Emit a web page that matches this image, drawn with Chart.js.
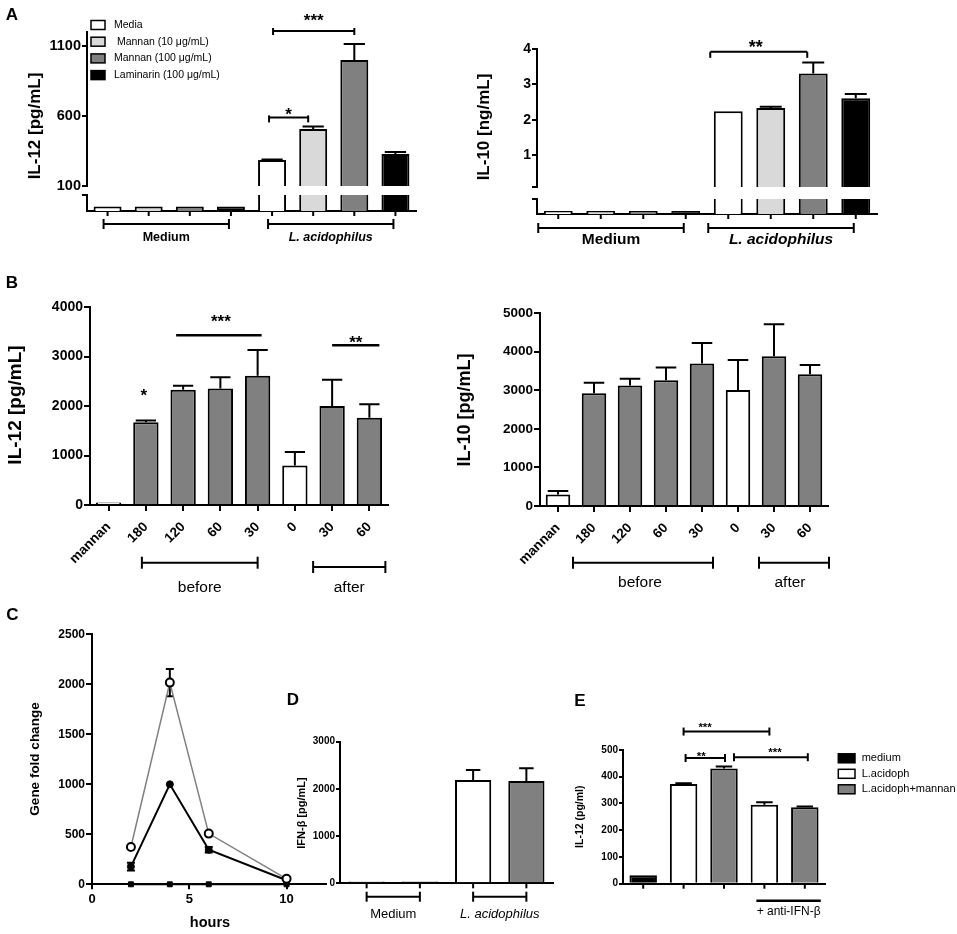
<!DOCTYPE html>
<html>
<head>
<meta charset="utf-8">
<script src="https://cdn.jsdelivr.net/npm/chart.js@4.4.1/dist/chart.umd.min.js"></script>
<style>
  html, body { margin: 0; padding: 0; background: #fff; }
  #fig { position: relative; width: 957px; height: 934px; overflow: hidden; background: #fff; }
  canvas { position: absolute; }
</style>
</head>
<body>
<div id="fig"></div>
<script>
// ---- panel A: IL-12 (left) and IL-10 (right), broken y axis ----
const aGroups = ['Medium', 'L. acidophilus'];
const aSeries = ['Media', ' Mannan (10 \u03bcg/mL)', 'Mannan (100 \u03bcg/mL)', 'Laminarin (100 \u03bcg/mL)'];
const aIL12Media = [28, 286];
const aIL12Mannan10 = [28, 507];
const aIL12Mannan100 = [28, 1000];
const aIL12Laminarin = [28, 329];
const aIL12MediaErr = [0, 3];
const aIL12Mannan10Err = [0, 18];
const aIL12Mannan100Err = [0, 114];
const aIL12LaminarinErr = [0, 14];
const aIL12Ticks = [100, 600, 1100];
const aIL12Break = 100;
const aIL12Top = 1200;

const aIL10Media = [0.02, 2.24];
const aIL10Mannan10 = [0.02, 2.33];
const aIL10Mannan100 = [0.02, 3.31];
const aIL10Laminarin = [0.02, 2.61];
const aIL10MediaErr = [0, 0];
const aIL10Mannan10Err = [0, 0.04];
const aIL10Mannan100Err = [0, 0.31];
const aIL10LaminarinErr = [0, 0.12];
const aIL10Ticks = [0.1, 1, 2, 3, 4];
const aIL10Break = 0.1;
const aIL10Top = 4;

// ---- panel B: time of mannan addition (min) ----
const bLabels = ['mannan', '180', '120', '60', '30', '0', '30', '60'];
const bIL12 = [50, 1670, 2330, 2355, 2610, 800, 2000, 1765];
const bIL12Err = [0, 35, 80, 225, 520, 270, 530, 270];
const bIL10 = [300, 2920, 3120, 3255, 3690, 3005, 3880, 3410];
const bIL10Err = [90, 275, 175, 330, 535, 775, 830, 240];

// ---- panel C: gene fold change over time ----
const cHours = [2, 4, 6, 10];
const cOpen = [373, 2017, 507, 55];
const cOpenErr = [0, 137, 0, 0];
const cFilled = [177, 1000, 345, 40];
const cFilledErr = [38, 0, 28, 0];
const cSquare = [0, 0, 0, 0];

// ---- panel D: IFN-beta ----
const dGroups = ['Medium', 'L. acidophilus'];
const dSeries = ['control', 'mannan'];
const dControl = [40, 2190];
const dControlErr = [0, 210];
const dMannan = [40, 2170];
const dMannanErr = [0, 270];

// ---- panel E: IL-12 with anti-IFN-beta ----
const eLabels = ['medium', 'L.acidoph', 'L.acidoph+mannan', 'L.acidoph anti-IFN', 'L.acidoph+mannan anti-IFN'];
const eIL12 = [32, 373, 431, 295, 286];
const eIL12Err = [0, 3, 7, 10, 3];
const eLegend = ['medium', 'L.acidoph', 'L.acidoph+mannan'];

// colours
const GRAY = '#808080';
const aFill = ['#ffffff', '#d9d9d9', GRAY, '#000000'];
const bFill = ['#ffffff', GRAY, GRAY, GRAY, GRAY, '#ffffff', GRAY, GRAY];
const dFill = ['#ffffff', GRAY];
const eFill = ['#000000', '#ffffff', GRAY, '#ffffff', GRAY];
const eLegendFill = ['#000000', '#ffffff', GRAY];

const FONT = '"Liberation Sans", Arial, Helvetica, sans-serif';
Chart.defaults.font.family = FONT;
Chart.defaults.color = '#000';

const fig = document.getElementById('fig');

function addCanvas(x, y, w, h) {
    const c = document.createElement('canvas');
    c.width = w;
    c.height = h;
    c.style.left = x + 'px';
    c.style.top = y + 'px';
    c.style.width = w + 'px';
    c.style.height = h + 'px';
    fig.appendChild(c);
    return c;
}

function txt(ctx, s, x, y, size, opt = {}) {
    ctx.save();
    ctx.font = (opt.italic ? 'italic ' : '') + (opt.bold === false ? '' : 'bold ') + size + 'px ' + FONT;
    ctx.fillStyle = '#000';
    ctx.textAlign = opt.align || 'center';
    ctx.textBaseline = 'middle';
    ctx.translate(x, y);
    if (opt.rot) ctx.rotate(opt.rot);
    ctx.fillText(s, 0, 0);
    ctx.restore();
}

// y is the visual centre of the asterisks
function stars(ctx, s, x, y, size) {
    ctx.save();
    ctx.font = 'bold ' + size + 'px ' + FONT;
    ctx.textAlign = 'center';
    ctx.textBaseline = 'alphabetic';
    ctx.fillStyle = '#000';
    ctx.fillText(s, x, y + size * 0.55);
    ctx.restore();
}

function seg(ctx, x1, y1, x2, y2, w = 2) {
    ctx.save();
    ctx.strokeStyle = '#000';
    ctx.lineWidth = w;
    ctx.beginPath();
    ctx.moveTo(x1, y1);
    ctx.lineTo(x2, y2);
    ctx.stroke();
    ctx.restore();
}

function bracket(ctx, x1, x2, y, up, down, w = 2) {
    seg(ctx, x1, y, x2, y, w);
    seg(ctx, x1, y - up, x1, y + down, w);
    seg(ctx, x2, y - up, x2, y + down, w);
}

function legendRow(ctx, x, y, w, h, fill, label, size, gap) {
    ctx.save();
    ctx.fillStyle = fill;
    ctx.fillRect(x, y - h / 2, w, h);
    ctx.strokeStyle = '#000';
    ctx.lineWidth = 1.5;
    ctx.strokeRect(x, y - h / 2, w, h);
    ctx.restore();
    txt(ctx, label, x + w + gap, y, size, { bold: false, align: 'left' });
}

// tick marks under every bar (grouped charts)
function barTicks(chart, len) {
    const b = chart.chartArea.bottom;
    chart.data.datasets.forEach((ds, di) => {
        chart.getDatasetMeta(di).data.forEach(el => seg(chart.ctx, el.x, b, el.x, b + len));
    });
}

const errorBars = {
    id: 'errorBars',
    beforeDatasetsDraw(chart) {
        const ctx = chart.ctx, a = chart.chartArea, ys = chart.scales.y;
        ctx.save();
        ctx.beginPath();
        ctx.rect(a.left, a.top - 2, a.right - a.left, a.bottom - a.top + 2);
        ctx.clip();
        ctx.strokeStyle = '#000';
        ctx.lineWidth = 2;
        chart.data.datasets.forEach((ds, di) => {
            if (!ds.errors) return;
            chart.getDatasetMeta(di).data.forEach((el, i) => {
                const e = ds.errors[i];
                if (!e) return;
                const raw = ds.data[i];
                const v = typeof raw === 'object' ? raw.y : raw;
                const half = ds.capHalf || el.width * ds.capFrac;
                const hi = ys.getPixelForValue(v + e);
                const lo = ds.both ? ys.getPixelForValue(v - e) : el.y;
                ctx.beginPath();
                ctx.moveTo(el.x, lo);
                ctx.lineTo(el.x, hi);
                ctx.moveTo(el.x - half, hi);
                ctx.lineTo(el.x + half, hi);
                if (ds.both) {
                    ctx.moveTo(el.x - half, lo);
                    ctx.lineTo(el.x + half, lo);
                }
                ctx.stroke();
            });
        });
        ctx.restore();
    }
};
Chart.register(errorBars);

function yScale(o) {
    return {
        min: o.min,
        max: o.max,
        afterFit: s => { s.width = o.width; },
        afterBuildTicks: o.fixed ? s => { s.ticks = o.fixed.map(v => ({ value: v })); } : undefined,
        ticks: {
            font: { size: o.size, weight: 'bold' },
            padding: 1,
            stepSize: o.step,
            callback: o.hide ? (v => (o.hide.includes(v) ? '' : String(v))) : (v => String(v))
        },
        grid: { drawOnChartArea: false, drawTicks: true, tickLength: o.tick || 5, color: '#000', lineWidth: 2 },
        border: { display: true, color: '#000', width: 2 }
    };
}

function xLine(h) {
    return {
        ticks: { display: false },
        grid: { display: false },
        border: { display: true, color: '#000', width: 2 },
        afterFit: s => { s.height = h; }
    };
}

// rotated category labels; the box must be tall enough or the labels get clipped
function xLabels(size, h) {
    return {
        ticks: { font: { size: size, weight: 'bold' }, minRotation: 45, maxRotation: 45, autoSkip: false, padding: 8 },
        grid: { drawOnChartArea: false, offset: false, drawTicks: true, tickLength: 6, color: '#000', lineWidth: 2 },
        border: { display: true, color: '#000', width: 2 },
        afterFit: s => { s.height = h; }
    };
}

function barSet(label, data, errors, fill, capFrac) {
    return {
        label, data, errors, capFrac,
        backgroundColor: fill,
        borderColor: '#000',
        borderWidth: 2,
        borderSkipped: 'start',
        clip: 0,
        barPercentage: 0.68,
        categoryPercentage: 1
    };
}

// rect = canvas box on the page, area = wanted plot area on the page
function makeChart(rect, area, yW, xH, config, draw) {
    const [rx, ry, rw, rh] = rect;
    const c = addCanvas(rx, ry, rw, rh);
    const o = config.options;
    o.responsive = false;
    o.animation = false;
    o.events = [];
    o.layout = {
        padding: {
            left: area[0] - rx - yW,
            top: area[1] - ry,
            right: rx + rw - area[2],
            bottom: ry + rh - area[3] - xH
        }
    };
    o.plugins = { legend: { display: false }, tooltip: { enabled: false } };
    config.plugins = [{ id: 'notes', afterDraw: ch => draw(ch, ch.ctx, x => x - rx, y => y - ry) }];
    return new Chart(c, config);
}

const bx = (ch, d, i) => ch.getDatasetMeta(d).data[i].x;
const ROT = -Math.PI / 2;

// ================= A left: IL-12 =================
const aIL12 = [aIL12Media, aIL12Mannan10, aIL12Mannan100, aIL12Laminarin];
const aIL12Err = [aIL12MediaErr, aIL12Mannan10Err, aIL12Mannan100Err, aIL12LaminarinErr];

makeChart([0, 0, 445, 200], [87, 32, 416, 186], 60, 0, {
    type: 'bar',
    data: { labels: aGroups, datasets: aSeries.map((s, k) => barSet(s, aIL12[k], aIL12Err[k], aFill[k], 0.38)) },
    options: {
        scales: {
            x: { display: false },
            y: yScale({ min: aIL12Break, max: aIL12Top, width: 60, size: 14.5, fixed: aIL12Ticks })
        }
    }
}, (ch, ctx, X, Y) => {
    const ys = ch.scales.y;
    txt(ctx, 'A', X(12), Y(15), 17);
    txt(ctx, 'IL-12 [pg/mL]', X(35), Y(126), 17, { rot: ROT });
    aSeries.forEach((s, k) => legendRow(ctx, X(91), Y(25 + k * 16.7), 14, 9, aFill[k], s, 10.5, 9));
    let y = ys.getPixelForValue(590);
    let x1 = bx(ch, 0, 1) - 3, x2 = bx(ch, 1, 1) - 5;
    bracket(ctx, x1, x2, y, 2, 5);
    stars(ctx, '*', (x1 + x2) / 2, y - 7, 17);
    y = ys.getPixelForValue(1207);
    x1 = bx(ch, 0, 1) + 1;
    x2 = bx(ch, 2, 1);
    bracket(ctx, x1, x2, y, 3, 4);
    stars(ctx, '***', (x1 + x2) / 2, y - 14.5, 17);
});

makeChart([0, 180, 445, 80], [87, 195, 416, 211], 60, 0, {
    type: 'bar',
    data: { labels: aGroups, datasets: aSeries.map((s, k) => barSet(s, aIL12[k], aIL12Err[k], aFill[k], 0.38)) },
    options: {
        scales: {
            x: xLine(0),
            y: yScale({ min: 0, max: aIL12Break, width: 60, size: 14.5, fixed: [aIL12Break], hide: [aIL12Break] })
        }
    }
}, (ch, ctx, X, Y) => {
    const b = ch.chartArea.bottom;
    barTicks(ch, 5);
    aGroups.forEach((g, gi) => {
        const x1 = bx(ch, 0, gi) - 4, x2 = bx(ch, 3, gi) - 2;
        bracket(ctx, x1, x2, b + 13, 5, 5);
        txt(ctx, g, (x1 + x2) / 2, b + 27, 12.5, { italic: gi === 1 });
    });
});

// ================= A right: IL-10 =================
const aIL10 = [aIL10Media, aIL10Mannan10, aIL10Mannan100, aIL10Laminarin];
const aIL10Err = [aIL10MediaErr, aIL10Mannan10Err, aIL10Mannan100Err, aIL10LaminarinErr];

makeChart([455, 0, 502, 200], [537, 49, 877, 187], 45, 0, {
    type: 'bar',
    data: { labels: aGroups, datasets: aSeries.map((s, k) => barSet(s, aIL10[k], aIL10Err[k], aFill[k], 0.38)) },
    options: {
        scales: {
            x: { display: false },
            y: yScale({ min: aIL10Break, max: aIL10Top, width: 45, size: 14, fixed: aIL10Ticks, hide: [aIL10Break] })
        }
    }
}, (ch, ctx, X, Y) => {
    const ys = ch.scales.y;
    txt(ctx, 'IL-10 [ng/mL]', X(484), Y(127), 17, { rot: ROT });
    const y = ys.getPixelForValue(3.92);
    const x1 = bx(ch, 0, 1) - 18, x2 = bx(ch, 2, 1) - 6;
    bracket(ctx, x1, x2, y, 0, 6);
    stars(ctx, '**', (x1 + x2) / 2 - 3, y - 8.5, 18);
});

makeChart([455, 185, 502, 75], [537, 199, 877, 214], 45, 0, {
    type: 'bar',
    data: { labels: aGroups, datasets: aSeries.map((s, k) => barSet(s, aIL10[k], aIL10Err[k], aFill[k], 0.38)) },
    options: {
        scales: {
            x: xLine(0),
            y: yScale({ min: 0, max: aIL10Break, width: 45, size: 14, fixed: [aIL10Break], hide: [aIL10Break] })
        }
    }
}, (ch, ctx, X, Y) => {
    const b = ch.chartArea.bottom;
    barTicks(ch, 5);
    aGroups.forEach((g, gi) => {
        const x1 = bx(ch, 0, gi) - 20, x2 = bx(ch, 3, gi) - 2;
        bracket(ctx, x1, x2, b + 14, 5, 5);
        txt(ctx, g, (x1 + x2) / 2, b + 26, 15.5, { italic: gi === 1 });
    });
});

// ================= B left: IL-12 =================
makeChart([0, 262, 450, 338], [90, 307, 388, 505], 60, 70, {
    type: 'bar',
    data: { labels: bLabels, datasets: [barSet('IL-12', bIL12, bIL12Err, bFill, 0.4)] },
    options: {
        scales: {
            x: xLabels(13.5, 70),
            y: yScale({ min: 0, max: 4000, step: 1000, width: 60, size: 14, tick: 6 })
        }
    }
}, (ch, ctx, X, Y) => {
    const ys = ch.scales.y, b = ch.chartArea.bottom;
    txt(ctx, 'B', X(12), Y(283), 17);
    txt(ctx, 'IL-12 [pg/mL]', X(15.5), Y(405), 19, { rot: ROT });
    stars(ctx, '*', bx(ch, 0, 1) - 2, ys.getPixelForValue(2290), 17);
    let x1 = bx(ch, 0, 2) - 7, x2 = bx(ch, 0, 4) + 4;
    seg(ctx, x1, ys.getPixelForValue(3427), x2, ys.getPixelForValue(3427), 2.5);
    stars(ctx, '***', (x1 + x2) / 2 + 2, ys.getPixelForValue(3785), 17);
    x1 = bx(ch, 0, 6);
    x2 = bx(ch, 0, 7) + 10;
    seg(ctx, x1, ys.getPixelForValue(3225), x2, ys.getPixelForValue(3225), 2.5);
    stars(ctx, '**', (x1 + x2) / 2, ys.getPixelForValue(3370), 17);
    x1 = bx(ch, 0, 1) - 4;
    x2 = bx(ch, 0, 4);
    bracket(ctx, x1, x2, b + 57.7, 6, 6);
    txt(ctx, 'before', (x1 + x2) / 2, b + 83, 15.5, { bold: false });
    x1 = bx(ch, 0, 6) - 19;
    x2 = bx(ch, 0, 7) + 16;
    bracket(ctx, x1, x2, b + 62, 6, 6);
    txt(ctx, 'after', (x1 + x2) / 2, b + 83, 15.5, { bold: false });
});

// ================= B right: IL-10 =================
makeChart([455, 262, 502, 338], [540, 313, 828, 506], 60, 70, {
    type: 'bar',
    data: { labels: bLabels, datasets: [barSet('IL-10', bIL10, bIL10Err, bFill, 0.42)] },
    options: {
        scales: {
            x: xLabels(13.5, 70),
            y: yScale({ min: 0, max: 5000, step: 1000, width: 60, size: 13.5, tick: 6 })
        }
    }
}, (ch, ctx, X, Y) => {
    const b = ch.chartArea.bottom;
    txt(ctx, 'IL-10 [pg/mL]', X(465), Y(410), 18, { rot: ROT });
    let x1 = bx(ch, 0, 1) - 21, x2 = bx(ch, 0, 4) + 11;
    bracket(ctx, x1, x2, b + 56.7, 6, 6);
    txt(ctx, 'before', (x1 + x2) / 2 - 3, b + 77, 15.5, { bold: false });
    x1 = bx(ch, 0, 6) - 15;
    x2 = bx(ch, 0, 7) + 19;
    bracket(ctx, x1, x2, b + 56.7, 6, 6);
    txt(ctx, 'after', (x1 + x2) / 2 - 4, b + 77, 15.5, { bold: false });
});

// ================= C: gene fold change =================
const pts = vals => cHours.map((h, i) => ({ x: h, y: vals[i] }));

makeChart([0, 600, 335, 334], [92, 634.3, 325.5, 884.3], 50, 25, {
    type: 'line',
    data: {
        datasets: [
            {
                label: 'open', data: pts(cOpen), errors: cOpenErr, both: true, capHalf: 4,
                borderColor: GRAY, borderWidth: 1.5, pointRadius: 4, pointBorderWidth: 2,
                pointBorderColor: '#000', pointBackgroundColor: '#fff', clip: false
            },
            {
                label: 'filled', data: pts(cFilled), errors: cFilledErr, both: true, capHalf: 4,
                borderColor: '#000', borderWidth: 2, pointRadius: 3.5, pointBorderWidth: 1,
                pointBorderColor: '#000', pointBackgroundColor: '#000', clip: false
            },
            {
                label: 'square', data: pts(cSquare), pointStyle: 'rect',
                borderColor: '#000', borderWidth: 2, pointRadius: 3.5, pointBorderWidth: 1,
                pointBorderColor: '#000', pointBackgroundColor: '#000', clip: false
            }
        ]
    },
    options: {
        scales: {
            x: {
                type: 'linear', min: 0, max: 12,
                afterFit: s => { s.height = 25; },
                ticks: { stepSize: 5, includeBounds: false, font: { size: 13, weight: 'bold' }, padding: 2, callback: v => String(v) },
                grid: { drawOnChartArea: false, drawTicks: true, tickLength: 5, color: '#000', lineWidth: 2 },
                border: { display: true, color: '#000', width: 2 }
            },
            y: yScale({ min: 0, max: 2500, step: 500, width: 50, size: 12, tick: 6 })
        }
    }
}, (ch, ctx, X, Y) => {
    txt(ctx, 'C', X(12.5), Y(615.5), 17);
    txt(ctx, 'Gene fold change', X(35), Y(759), 13.5, { rot: ROT });
    txt(ctx, 'hours', X(210), Y(923), 14.5);
});

// ================= D: IFN-beta =================
const dData = [dControl, dMannan];
const dErr = [dControlErr, dMannanErr];

makeChart([280, 690, 300, 244], [340, 741.7, 553, 883.3], 40, 0, {
    type: 'bar',
    data: { labels: dGroups, datasets: dSeries.map((s, k) => barSet(s, dData[k], dErr[k], dFill[k], 0.2)) },
    options: {
        scales: {
            x: xLine(0),
            y: yScale({ min: 0, max: 3000, step: 1000, width: 40, size: 10, tick: 4 })
        }
    }
}, (ch, ctx, X, Y) => {
    const b = ch.chartArea.bottom;
    txt(ctx, 'D', X(293), Y(700), 17);
    txt(ctx, 'IFN-\u03b2 [pg/mL]', X(302), Y(813), 11, { rot: ROT });
    barTicks(ch, 5);
    dGroups.forEach((g, gi) => {
        const x1 = bx(ch, 0, gi), x2 = bx(ch, 1, gi);
        bracket(ctx, x1, x2, b + 13.4, 5, 5);
        txt(ctx, g, (x1 + x2) / 2, b + 31, 13, { bold: false, italic: gi === 1 });
    });
});

// ================= E: IL-12 with anti-IFN-beta =================
makeChart([570, 690, 387, 244], [623, 750, 825, 883.7], 30, 0, {
    type: 'bar',
    data: { labels: eLabels, datasets: [barSet('IL-12', eIL12, eIL12Err, eFill, 0.3)] },
    options: {
        scales: {
            x: xLine(0),
            y: yScale({ min: 0, max: 500, step: 100, width: 30, size: 10, tick: 4 })
        }
    }
}, (ch, ctx, X, Y) => {
    const ys = ch.scales.y, b = ch.chartArea.bottom;
    txt(ctx, 'E', X(580), Y(701), 17);
    txt(ctx, 'IL-12 (pg/ml)', X(580), Y(816.7), 10.5, { rot: ROT });
    barTicks(ch, 5);
    let x1 = bx(ch, 0, 1), x2 = bx(ch, 0, 3) + 5;
    bracket(ctx, x1, x2, ys.getPixelForValue(569), 4, 4);
    stars(ctx, '***', x1 + 21.5, ys.getPixelForValue(593), 11.5);
    x1 = bx(ch, 0, 1) + 2;
    x2 = bx(ch, 0, 2) + 1;
    bracket(ctx, x1, x2, ys.getPixelForValue(470), 4, 4);
    stars(ctx, '**', (x1 + x2) / 2 - 4, ys.getPixelForValue(486), 11.5);
    x1 = bx(ch, 0, 2) + 10;
    x2 = bx(ch, 0, 4) + 3;
    bracket(ctx, x1, x2, ys.getPixelForValue(473), 4, 4);
    stars(ctx, '***', (x1 + x2) / 2 + 4, ys.getPixelForValue(501), 11.5);
    x1 = bx(ch, 0, 3) - 8;
    x2 = bx(ch, 0, 4) + 16;
    seg(ctx, x1, b + 17, x2, b + 17, 2.5);
    txt(ctx, '+ anti-IFN-\u03b2', (x1 + x2) / 2, b + 28, 12, { bold: false });
    eLegend.forEach((s, k) => legendRow(ctx, X(838.3), Y(758.3 + k * 15.5), 16.7, 9, eLegendFill[k], s, 11, 6.7));
});
</script>
</body>
</html>
